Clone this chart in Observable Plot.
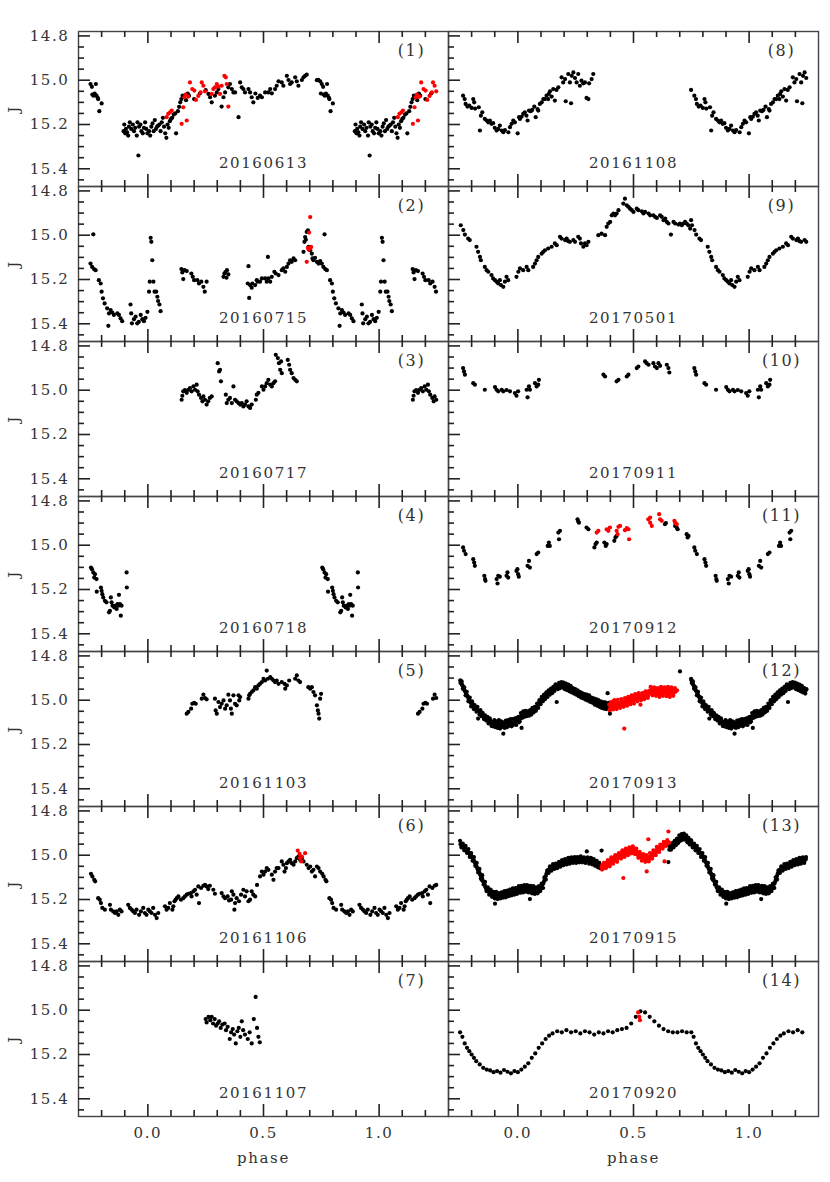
<!DOCTYPE html>
<html><head><meta charset="utf-8">
<script src="https://cdn.jsdelivr.net/npm/d3@7"></script>
<script src="https://cdn.jsdelivr.net/npm/@observablehq/plot@0.6"></script>
<style>
body{margin:0;background:#fff}
svg text{letter-spacing:1.6px}
</style>
</head><body><div id="chart"></div>
<script>
// ---- labels / ticks ----
const panelNumbers = [1,2,3,4,5,6,7,8,9,10,11,12,13,14];
const panelDates = ["20160613","20160715","20160717","20160718","20161103","20161106","20161107",
                    "20161108","20170501","20170911","20170912","20170913","20170915","20170920"];
const xMajor = [0, 0.5, 1];
const xMinor = [-0.2,-0.1,0.1,0.2,0.3,0.4,0.6,0.7,0.8,0.9,1.1,1.2];
const yMajor = [14.8, 15.0, 15.2, 15.4];
const yMinor = [14.85,14.9,14.95,15.05,15.1,15.15,15.25,15.3,15.35,15.45];
const xDomain = [-0.3, 1.3];
const yDomain = [14.78, 15.48];

// ---- data: [phase (0..1), J] ----
const p1 = [[0.731,15.00],[0.737,14.998],[0.745,15.005],[0.748,15.06],[0.752,15.017],[0.758,15.03],[0.760,15.065],[0.765,15.07],[0.770,15.06],[0.775,15.017],[0.778,15.07],[0.783,15.08],[0.785,15.085],[0.790,15.14],[0.800,15.105],
[0.895,15.23],[0.898,15.20],[0.902,15.24],[0.905,15.22],[0.910,15.235],[0.915,15.25],[0.918,15.21],[0.922,15.19],[0.928,15.22],[0.935,15.20],[0.940,15.23],[0.945,15.215],[0.952,15.25],[0.955,15.19],[0.959,15.34],[0.962,15.21],[0.968,15.20],[0.972,15.23],[0.978,15.24],[0.983,15.215],[0.988,15.19],[0.993,15.22],[0.998,15.24],
[0.005,15.23],[0.010,15.25],[0.015,15.21],[0.020,15.195],[0.025,15.23],[0.030,15.18],[0.035,15.22],[0.040,15.21],[0.045,15.205],[0.050,15.20],[0.055,15.23],[0.060,15.19],[0.065,15.17],[0.070,15.21],[0.075,15.24],[0.080,15.26],[0.085,15.20],[0.090,15.215],[0.095,15.185],[0.100,15.175],[0.105,15.17],[0.112,15.155],[0.118,15.15],[0.122,15.24],[0.130,15.14],[0.135,15.12],[0.140,15.10],[0.145,15.085],[0.150,15.07],[0.155,15.075],
[0.165,15.09],[0.172,15.06],[0.178,15.07],[0.200,15.085],[0.225,15.06],[0.250,15.045],
[0.262,15.062],[0.269,15.077],[0.276,15.100],[0.290,15.070],[0.298,15.055],[0.305,15.040],[0.319,15.119],[0.327,15.077],[0.334,15.055],[0.348,15.032],[0.355,15.017],[0.363,15.040],[0.370,15.055],[0.377,15.055],[0.392,15.167],[0.399,15.010],[0.406,15.032],[0.413,15.040],[0.420,15.055],[0.435,15.040],[0.442,15.055],[0.449,15.077],[0.456,15.100],[0.465,15.06],[0.475,15.08],[0.485,15.070],[0.493,15.077],[0.507,15.055],[0.521,15.055],[0.529,15.040],[0.536,15.059],[0.550,15.040],[0.557,15.025],[0.565,15.005],[0.579,15.010],[0.586,15.025],[0.601,14.980],[0.608,14.999],[0.615,15.017],[0.622,15.010],[0.637,14.987],[0.644,15.005],[0.651,15.025],[0.666,14.999],[0.673,14.987],[0.680,14.980],[0.687,14.975]];
const p1r = [[0.081,15.167],[0.088,15.152],[0.096,15.145],[0.103,15.137],[0.146,15.197],[0.168,15.182],[0.153,15.122],[0.158,15.077],[0.163,15.065],[0.175,15.074],[0.182,15.010],[0.192,15.040],[0.201,15.047],[0.208,15.089],[0.218,15.071],[0.228,15.055],[0.233,15.010],[0.240,15.025],[0.247,15.050],[0.276,15.062],[0.283,15.040],[0.290,15.032],[0.298,15.017],[0.305,15.029],[0.319,15.025],[0.331,14.980],[0.337,14.987],[0.341,15.017],[0.348,15.119],[0.312,15.062]];

const p2 = [[0.788,15.203],[0.796,15.218],[0.800,15.255],[0.806,15.285],[0.813,15.308],[0.824,15.330],[0.829,15.409],[0.832,15.353],[0.839,15.338],[0.846,15.349],[0.853,15.360],[0.868,15.353],[0.875,15.360],[0.882,15.376],[0.889,15.388],[0.925,15.313],[0.928,15.353],[0.931,15.398],[0.940,15.379],[0.947,15.368],[0.954,15.398],[0.961,15.391],[0.969,15.360],[0.976,15.379],[0.983,15.388],[0.990,15.373],[0.998,15.346],
[0.005,15.255],[0.008,15.210],[0.012,15.012],[0.015,15.030],[0.019,15.113],[0.024,15.210],[0.029,15.255],[0.036,15.255],[0.041,15.278],[0.044,15.297],[0.050,15.313],[0.055,15.343],
[0.145,15.153],[0.149,15.168],[0.153,15.198],[0.159,15.158],[0.168,15.162],[0.188,15.173],[0.194,15.188],[0.200,15.203],[0.214,15.203],[0.221,15.218],[0.231,15.210],[0.240,15.233],[0.246,15.255],[0.254,15.210],
[0.327,15.188],[0.331,15.173],[0.336,15.165],[0.342,15.158],[0.348,15.177],[0.340,15.192],
[0.432,15.218],[0.435,15.140],[0.438,15.283],[0.442,15.225],[0.449,15.237],[0.452,15.218],[0.464,15.225],[0.471,15.203],[0.475,15.210],[0.485,15.210],[0.493,15.195],[0.507,15.195],[0.514,15.210],[0.519,15.098],[0.521,15.195],[0.529,15.210],[0.536,15.188],[0.547,15.165],[0.553,15.173],[0.565,15.180],[0.579,15.158],[0.586,15.150],[0.594,15.165],[0.601,15.143],[0.608,15.128],[0.615,15.113],[0.622,15.120],[0.630,15.105],[0.637,15.113],
[0.673,15.075],[0.677,15.030],[0.680,15.008],[0.683,15.020],[0.687,14.985],[0.692,14.978],[0.695,15.053],[0.702,15.068],[0.709,15.083],[0.712,15.105],[0.716,15.113],[0.723,15.102],[0.731,15.120],[0.738,15.128],[0.745,15.117],[0.752,15.128],[0.759,15.143],[0.764,14.996],[0.767,15.153],[0.774,15.158]];
const p2r = [[0.702,14.918],[0.697,14.988],[0.692,15.057],[0.702,15.060],[0.706,15.053],[0.695,15.065],[0.687,15.120]];

const p3 = [[0.146,15.043],[0.149,15.025],[0.153,15.005],[0.160,15.000],[0.168,15.012],[0.175,14.998],[0.182,14.990],[0.189,15.005],[0.197,14.983],[0.204,14.998],[0.211,14.975],[0.215,15.005],[0.221,15.020],[0.230,15.035],[0.236,15.050],[0.240,15.028],[0.247,15.043],[0.254,15.065],[0.261,15.050],[0.268,15.035],[0.276,15.028],
[0.302,14.878],[0.308,14.915],[0.312,14.908],[0.316,14.960],
[0.337,15.020],[0.341,15.058],[0.348,15.043],[0.355,15.035],[0.363,15.058],[0.370,14.983],[0.377,15.043],[0.384,15.050],[0.392,15.058],[0.399,15.065],[0.406,15.058],[0.413,15.073],[0.420,15.065],[0.427,15.050],[0.435,15.073],[0.442,15.080],[0.449,15.065],
[0.467,15.043],[0.471,15.020],[0.478,15.012],[0.493,14.983],[0.500,14.998],[0.507,14.983],[0.514,14.968],[0.521,14.953],[0.529,14.975],[0.536,14.983],[0.543,14.968],[0.550,14.960],[0.553,14.840],[0.562,14.855],[0.567,14.878],[0.572,14.908],[0.576,14.870],[0.579,14.923],
[0.605,14.863],[0.611,14.885],[0.615,14.908],[0.622,14.923],[0.630,14.945],[0.637,14.953],[0.644,14.960]];

const p4 = [[0.754,15.101],[0.758,15.108],[0.764,15.123],[0.768,15.146],[0.771,15.131],[0.778,15.153],[0.779,15.210],[0.797,15.191],[0.800,15.206],[0.803,15.221],[0.807,15.236],[0.814,15.251],[0.821,15.258],[0.832,15.303],[0.836,15.296],[0.840,15.236],[0.843,15.258],[0.847,15.273],[0.855,15.281],[0.860,15.273],[0.865,15.288],[0.869,15.266],[0.872,15.273],[0.879,15.266],[0.875,15.224],[0.883,15.318],[0.886,15.273],[0.908,15.123],[0.909,15.191]];

const p5 = [[0.745,14.993],[0.749,14.971],
[0.168,15.061],[0.175,15.053],[0.187,15.038],[0.192,15.016],[0.200,15.012],[0.207,15.016],[0.233,14.993],[0.240,14.975],[0.247,14.990],[0.254,14.996],
[0.290,14.993],[0.293,15.046],[0.298,15.061],[0.305,15.008],[0.312,15.031],[0.319,15.016],[0.327,15.001],[0.334,15.038],[0.341,15.023],[0.348,14.975],[0.355,15.001],[0.359,15.038],[0.363,15.061],[0.370,14.978],[0.377,15.016],[0.384,15.023],[0.392,14.978],[0.395,15.001],[0.399,14.986],
[0.435,14.993],[0.438,14.978],[0.442,14.971],[0.449,14.963],[0.456,14.956],[0.464,14.941],[0.471,14.948],[0.478,14.933],[0.485,14.926],[0.493,14.918],[0.500,14.903],[0.507,14.911],[0.514,14.866],[0.519,14.903],[0.529,14.896],[0.536,14.903],[0.543,14.911],[0.550,14.918],[0.557,14.911],[0.565,14.926],[0.579,14.918],[0.591,14.926],[0.594,14.948],[0.601,14.933],[0.611,14.911],[0.637,14.903],[0.644,14.888],[0.651,14.911],[0.658,14.918],
[0.694,14.941],[0.702,14.948],[0.709,14.941],[0.716,14.963],[0.723,14.978],[0.731,15.023],[0.735,15.046],[0.738,15.061],[0.741,15.083]];

const p6 = [[0.754,15.084],[0.760,15.096],[0.768,15.111],[0.772,15.118],[0.785,15.194],[0.792,15.201],[0.797,15.216],[0.803,15.238],[0.814,15.246],[0.836,15.224],[0.840,15.246],[0.850,15.254],[0.858,15.261],[0.865,15.254],[0.872,15.269],[0.879,15.246],[0.886,15.254],[0.915,15.224],[0.922,15.238],[0.930,15.246],[0.937,15.254],[0.944,15.261],[0.951,15.246],[0.962,15.269],[0.970,15.254],[0.980,15.238],[0.987,15.261],[0.994,15.269],[0.002,15.246],[0.009,15.254],[0.016,15.261],[0.023,15.238],[0.031,15.269],[0.038,15.284],[0.045,15.261],
[0.074,15.231],[0.081,15.246],[0.088,15.238],[0.095,15.216],[0.106,15.246],[0.110,15.231],[0.115,15.208],[0.120,15.201],[0.125,15.194],[0.132,15.186],[0.143,15.201],[0.153,15.194],[0.160,15.186],[0.168,15.178],[0.175,15.174],[0.186,15.171],[0.189,15.186],[0.197,15.163],[0.204,15.156],[0.211,15.178],[0.218,15.141],[0.221,15.216],[0.230,15.148],[0.240,15.138],[0.247,15.134],[0.254,15.141],[0.261,15.153],[0.268,15.138],[0.283,15.156],[0.290,15.174],
[0.319,15.171],[0.327,15.186],[0.334,15.194],[0.345,15.186],[0.351,15.204],[0.360,15.201],[0.363,15.163],[0.370,15.178],[0.374,15.246],[0.377,15.216],[0.384,15.194],[0.394,15.208],[0.403,15.178],[0.413,15.156],[0.420,15.186],[0.427,15.163],[0.435,15.208],[0.442,15.201],[0.449,15.163],[0.456,15.178],[0.464,15.186],[0.472,15.134],[0.485,15.096],[0.493,15.074],[0.500,15.088],[0.507,15.074],[0.514,15.058],[0.521,15.066],[0.536,15.088],[0.543,15.111],[0.550,15.074],[0.557,15.058],[0.565,15.058],[0.579,15.028],[0.586,15.043],[0.591,15.074],[0.597,15.058],[0.601,15.036],[0.608,15.028],[0.615,15.021],[0.622,15.036],[0.630,15.043],[0.637,15.028],[0.644,15.013],[0.651,15.006],[0.658,15.021],[0.666,15.013],[0.673,15.028],
[0.687,15.043],[0.695,15.058],[0.702,15.051],[0.709,15.074],[0.716,15.066],[0.723,15.096],[0.731,15.051],[0.738,15.058],[0.745,15.074]];
const p6r = [[0.648,14.979],[0.656,14.994],[0.658,15.013],[0.663,15.028],[0.666,15.006],[0.680,14.991]];

const p7 = [[0.250,15.040],[0.254,15.055],[0.262,15.030],[0.270,15.045],[0.276,15.030],[0.282,15.060],[0.289,15.040],[0.295,15.070],[0.302,15.060],[0.308,15.050],[0.315,15.080],[0.322,15.065],[0.332,15.060],[0.338,15.090],[0.345,15.075],[0.354,15.130],[0.360,15.100],[0.367,15.085],[0.373,15.110],[0.380,15.150],[0.387,15.095],[0.393,15.080],[0.400,15.120],[0.406,15.050],[0.412,15.090],[0.420,15.110],[0.432,15.130],[0.440,15.100],[0.449,15.150],[0.458,15.040],[0.466,14.940],[0.472,15.080],[0.478,15.120],[0.484,15.145]];

const p8 = [[0.749,15.044],[0.763,15.070],[0.770,15.085],[0.774,15.107],[0.782,15.119],[0.790,15.115],[0.800,15.125],[0.807,15.085],[0.811,15.100],[0.815,15.128],[0.831,15.122],[0.836,15.227],[0.840,15.160],[0.846,15.145],[0.857,15.175],[0.865,15.182],[0.872,15.190],[0.879,15.182],[0.886,15.197],[0.893,15.194],[0.900,15.215],[0.908,15.227],[0.915,15.220],[0.922,15.205],[0.930,15.227],[0.937,15.235],[0.944,15.225],
[0.959,15.235],[0.966,15.212],[0.973,15.197],[0.980,15.182],[0.987,15.190],[0.999,15.240],[0.005,15.167],[0.009,15.175],[0.016,15.165],[0.023,15.152],[0.030,15.145],[0.037,15.160],[0.042,15.182],[0.048,15.137],[0.056,15.140],[0.062,15.134],[0.071,15.119],[0.077,15.167],[0.085,15.130],[0.088,15.137],[0.095,15.107],[0.103,15.100],[0.110,15.085],[0.117,15.085],[0.124,15.070],[0.131,15.085],[0.134,15.062],[0.139,15.050],[0.146,15.074],[0.153,15.040],[0.160,15.092],[0.167,15.044],[0.175,15.032],[0.189,14.987],[0.196,15.010],[0.204,14.995],[0.207,15.095],[0.218,14.972],[0.225,15.010],[0.230,15.104],[0.233,14.980],[0.240,14.965],[0.247,14.990],[0.254,15.010],[0.261,14.972],[0.268,15.025],[0.275,15.002],[0.283,15.014],[0.290,15.010],[0.297,15.080],[0.305,15.085],[0.308,15.014],[0.319,14.995],[0.326,14.972]];

const p9 = [[0.749,14.932],[0.753,14.955],[0.764,14.977],[0.771,14.997],[0.785,15.015],[0.792,15.022],[0.821,15.052],[0.828,15.075],[0.836,15.098],[0.840,15.113],[0.857,15.143],[0.865,15.158],[0.872,15.165],[0.886,15.180],[0.893,15.195],[0.901,15.203],[0.908,15.210],[0.915,15.218],[0.922,15.203],[0.927,15.225],[0.937,15.233],[0.944,15.210],[0.951,15.188],[0.958,15.203],[0.994,15.188],
[0.002,15.165],[0.009,15.150],[0.023,15.158],[0.038,15.143],[0.045,15.158],[0.066,15.143],[0.074,15.128],[0.081,15.113],[0.088,15.098],[0.103,15.083],[0.110,15.075],[0.117,15.068],[0.131,15.060],[0.146,15.052],[0.160,15.037],[0.168,15.045],[0.182,15.007],[0.189,15.015],[0.204,15.022],[0.211,15.015],[0.218,15.027],[0.225,15.030],[0.240,15.022],[0.247,15.030],[0.261,15.007],[0.268,15.015],[0.273,15.037],[0.283,15.052],[0.290,15.037],[0.297,15.045],[0.305,15.030],
[0.348,15.000],[0.362,14.993],[0.377,15.000],[0.384,14.962],[0.391,14.947],[0.399,14.940],[0.406,14.910],[0.413,14.902],[0.420,14.910],[0.427,14.902],[0.435,14.887],[0.456,14.857],[0.463,14.835],[0.471,14.865],[0.478,14.872],[0.485,14.880],[0.493,14.887],[0.500,14.895],[0.514,14.880],[0.521,14.887],[0.536,14.892],[0.543,14.902],[0.550,14.895],[0.565,14.902],[0.572,14.910],[0.586,14.910],[0.593,14.917],[0.601,14.922],[0.615,14.910],[0.622,14.917],[0.630,14.932],[0.637,14.925],[0.644,14.940],[0.651,14.947],[0.662,14.997],[0.673,14.940],[0.680,14.947],[0.694,14.952],[0.701,14.947],[0.709,14.955],[0.716,14.947],[0.723,14.940],[0.730,14.947],[0.737,14.955],[0.745,14.970]];

const p10 = [[0.763,14.900],[0.767,14.915],[0.771,14.930],[0.807,14.968],[0.814,14.975],[0.857,14.998],[0.901,14.986],[0.908,14.998],[0.915,15.005],[0.930,14.998],[0.937,15.005],[0.951,14.999],[0.966,15.005],[0.987,15.013],[0.994,15.025],[0.001,15.005],[0.038,14.998],[0.042,15.032],[0.048,14.983],[0.052,14.998],[0.074,14.968],[0.081,14.983],[0.088,14.975],[0.091,14.953],
[0.370,14.930],[0.377,14.938],[0.427,14.960],[0.435,14.953],[0.471,14.938],[0.478,14.930],[0.514,14.900],[0.521,14.893],[0.550,14.870],[0.557,14.878],[0.565,14.885],[0.586,14.878],[0.593,14.893],[0.601,14.900],[0.608,14.878],[0.615,14.890],[0.644,14.885],[0.651,14.900],[0.655,14.920]];

const p11 = [[0.763,15.010],[0.767,15.025],[0.774,15.040],[0.807,15.063],[0.811,15.078],[0.814,15.093],[0.855,15.138],[0.858,15.153],[0.860,15.161],[0.908,15.153],[0.912,15.173],[0.915,15.138],[0.922,15.142],[0.951,15.138],[0.955,15.123],[0.958,15.146],[0.994,15.116],[0.998,15.108],[0.001,15.131],[0.004,15.142],[0.042,15.093],[0.048,15.071],[0.052,15.101],[0.081,15.040],[0.088,15.033],[0.129,15.003],[0.134,14.988],[0.138,15.003],[0.175,14.943],[0.178,14.973],[0.182,14.935],
[0.258,14.883],[0.261,14.893],[0.264,14.898],[0.297,14.920],[0.305,14.928],[0.331,15.010],[0.336,14.995],[0.341,14.988],[0.374,14.988],[0.380,15.003],[0.384,14.995],[0.417,14.980],[0.422,14.965],[0.427,14.958],[0.636,14.905],[0.640,14.900],[0.680,14.913],[0.687,14.920],[0.691,14.928],[0.730,14.950],[0.734,14.965],[0.738,14.958]];
const p11r = [[0.341,14.943],[0.348,14.935],[0.384,14.928],[0.391,14.935],[0.398,14.920],[0.427,14.935],[0.431,14.950],[0.435,14.917],[0.442,14.913],[0.463,14.932],[0.471,14.923],[0.478,14.928],[0.481,14.973],[0.564,14.883],[0.572,14.875],[0.572,14.898],[0.579,14.913],[0.611,14.860],[0.615,14.883],[0.622,14.890],[0.677,14.890],[0.680,14.898],[0.687,14.905]];

const p12 = [[0.749,14.903],[0.751,14.910],[0.753,14.918],[0.756,14.925],[0.758,14.930],[0.761,14.935],[0.764,14.940],[0.766,14.948],[0.769,14.955],[0.772,14.960],[0.775,14.965],[0.778,14.975],[0.781,14.980],[0.784,14.985],[0.787,14.995],[0.790,15.000],[0.793,15.005],[0.796,15.010],[0.800,15.020],[0.804,15.015],[0.807,15.025],[0.811,15.030],[0.815,15.035],[0.819,15.040],[0.823,15.038],[0.827,15.048],[0.828,15.083],[0.832,15.050],[0.836,15.055],[0.840,15.060],[0.845,15.058],[0.850,15.070],[0.855,15.075],[0.860,15.080],[0.865,15.078],[0.870,15.090],[0.875,15.095],[0.880,15.090],[0.886,15.116],[0.888,15.100],[0.895,15.105],[0.900,15.098],[0.905,15.110],[0.910,15.105],[0.915,15.112],[0.920,15.100],[0.925,15.115],[0.930,15.108],[0.937,15.151],[0.935,15.100],[0.940,15.112],[0.945,15.105],[0.950,15.098],[0.955,15.110],[0.960,15.100],[0.965,15.095],[0.970,15.105],[0.975,15.095],[0.980,15.100],[0.985,15.090],[0.990,15.100],[0.995,15.095],
[0.000,15.090],[0.005,15.100],[0.010,15.080],[0.016,15.125],[0.015,15.070],[0.020,15.065],[0.025,15.060],[0.030,15.062],[0.035,15.058],[0.040,15.065],[0.045,15.060],[0.050,15.055],[0.055,15.062],[0.060,15.050],[0.065,15.045],[0.070,15.040],[0.075,15.045],[0.080,15.030],[0.085,15.025],[0.090,15.015],[0.095,15.005],[0.100,15.000],[0.105,14.995],[0.110,14.990],[0.115,14.985],[0.120,14.980],[0.125,14.975],[0.130,14.970],[0.135,14.965],[0.140,14.962],[0.145,14.958],[0.150,14.955],[0.155,14.950],[0.160,14.945],[0.165,14.940],[0.168,15.008],[0.170,14.935],[0.175,14.940],[0.180,14.930],[0.185,14.935],[0.190,14.925],[0.195,14.930],[0.200,14.935],
[0.205,14.940],[0.210,14.935],[0.215,14.945],[0.220,14.940],[0.225,14.950],[0.230,14.948],[0.235,14.955],[0.240,14.960],[0.245,14.955],[0.250,14.965],[0.255,14.962],[0.260,14.968],[0.265,14.970],[0.270,14.975],[0.275,14.970],[0.280,14.980],[0.285,14.978],[0.290,14.985],[0.295,14.980],[0.300,14.990],[0.305,14.985],[0.310,14.995],[0.315,14.990],[0.320,15.000],[0.325,14.998],[0.330,15.005],[0.335,15.010],[0.340,15.005],[0.345,15.015],[0.350,15.010],[0.355,15.018],[0.360,15.015],[0.365,15.022],[0.370,15.020],[0.375,15.025],[0.380,15.020],[0.385,15.028],[0.388,14.968],[0.390,15.022],[0.395,15.030],[0.398,15.061],[0.701,14.870],
[0.752,14.922],[0.757,14.915],[0.762,14.948],[0.768,14.942],[0.774,14.978],[0.779,14.962],[0.786,15.005],[0.792,14.988],[0.798,15.028],[0.802,15.005],[0.809,15.040],[0.813,15.022],[0.821,15.052],[0.825,15.030],[0.834,15.065],[0.838,15.045],[0.843,15.072],[0.848,15.058],[0.853,15.085],[0.858,15.068],[0.863,15.092],[0.868,15.075],[0.873,15.105],[0.878,15.082],[0.884,15.100],[0.892,15.118],[0.898,15.090],[0.903,15.122],[0.908,15.095],[0.913,15.125],[0.918,15.090],[0.923,15.128],[0.928,15.095],[0.933,15.120],[0.943,15.125],[0.948,15.092],[0.953,15.122],[0.958,15.090],[0.963,15.115],[0.968,15.085],[0.973,15.118],[0.978,15.085],[0.983,15.110],[0.988,15.082],[0.993,15.112],[0.998,15.078],
[0.003,15.075],[0.008,15.095],[0.013,15.058],[0.018,15.080],[0.023,15.050],[0.028,15.075],[0.033,15.048],[0.038,15.072],[0.043,15.050],[0.048,15.070],[0.053,15.045],[0.058,15.065],[0.063,15.035],[0.068,15.055],[0.073,15.030],[0.078,15.048],[0.083,15.015],[0.088,15.035],[0.093,15.000],[0.098,15.018],[0.103,14.985],[0.108,15.005],[0.113,14.975],[0.118,14.995],[0.123,14.965],[0.128,14.985],[0.133,14.955],[0.138,14.975],[0.143,14.948],[0.148,14.968],[0.153,14.940],[0.158,14.958],[0.163,14.928],[0.173,14.950],[0.178,14.922],[0.183,14.945],[0.188,14.918],[0.193,14.942],[0.198,14.920],[0.203,14.950],[0.208,14.925],[0.213,14.955],[0.218,14.930],[0.223,14.960],[0.228,14.935],[0.233,14.965],[0.238,14.945],[0.243,14.970],[0.248,14.950],[0.253,14.975],[0.258,14.955],[0.263,14.982],[0.268,14.962],[0.273,14.988],[0.278,14.968],[0.283,14.992],[0.288,14.972],[0.293,14.998],[0.298,14.975],[0.303,15.002],[0.308,14.978],[0.313,15.008],[0.318,14.988],[0.323,15.012],[0.328,14.992],[0.333,15.020],[0.338,14.995],[0.343,15.025],[0.348,15.000],[0.353,15.030],[0.358,15.005],[0.363,15.035],[0.368,15.008],[0.373,15.038],[0.378,15.010],[0.383,15.040],[0.393,15.012]];
const p12r = [[0.395,15.020],[0.400,15.035],[0.403,15.015],[0.405,15.040],[0.408,15.025],[0.410,15.030],[0.413,15.005],[0.415,15.035],[0.418,15.020],[0.420,15.028],[0.423,15.015],[0.425,15.030],[0.428,15.022],[0.430,15.010],[0.433,15.025],[0.435,15.015],[0.438,15.030],[0.440,15.020],[0.443,15.012],[0.445,15.025],[0.448,15.018],[0.450,15.010],[0.453,15.020],[0.455,15.005],[0.458,15.015],[0.460,15.128],[0.462,15.020],[0.465,15.008],[0.468,15.000],[0.470,15.015],[0.473,15.005],[0.475,15.010],[0.478,14.998],[0.480,15.008],[0.483,15.000],[0.485,14.995],[0.488,15.005],[0.490,14.998],[0.493,14.990],[0.495,15.000],[0.498,14.992],[0.500,15.002],[0.503,14.990],[0.505,14.985],[0.508,14.995],[0.510,14.988],[0.513,14.980],[0.515,14.992],[0.518,14.985],[0.520,14.978],[0.523,14.990],[0.525,14.982],[0.530,15.020],[0.528,14.975],[0.532,14.985],[0.535,14.990],[0.540,14.982],[0.545,14.975],[0.548,14.988],[0.550,14.980],[0.553,14.970],[0.556,14.985],[0.558,14.975],[0.560,14.970],[0.563,14.980],
[0.572,14.965],[0.575,14.955],[0.578,14.970],[0.580,14.960],[0.583,14.950],[0.585,14.968],[0.588,14.958],[0.590,14.972],[0.593,14.955],[0.595,14.965],[0.598,14.960],[0.600,14.950],[0.603,14.970],[0.605,14.962],[0.608,14.955],[0.610,14.975],[0.613,14.960],[0.615,14.968],[0.618,14.950],[0.620,14.965],[0.623,14.958],[0.625,14.972],[0.628,14.960],[0.630,14.955],[0.633,14.968],[0.635,14.950],[0.638,14.962],[0.640,14.970],[0.643,14.955],[0.645,14.965],[0.648,14.960],[0.650,14.950],[0.653,14.968],[0.655,14.975],[0.658,14.960],[0.660,14.955],[0.663,14.965],[0.665,14.950],[0.668,14.960],[0.670,14.970],[0.673,14.958],[0.675,14.965],[0.678,14.955],[0.680,14.962],
[0.397,15.045],[0.402,15.008],[0.412,15.042],[0.417,15.000],[0.427,15.040],[0.432,14.998],[0.442,15.035],[0.447,14.995],[0.457,15.030],[0.463,14.990],[0.472,15.025],[0.477,14.985],[0.487,15.018],[0.492,14.978],[0.502,15.015],[0.507,14.972],[0.517,15.005],[0.522,14.968],[0.533,15.000],[0.538,14.968],[0.547,14.995],[0.552,14.960],[0.562,14.990],[0.567,14.958],
[0.574,14.940],[0.582,14.978],[0.589,14.942],[0.597,14.980],[0.604,14.945],[0.612,14.985],[0.619,14.940],[0.627,14.980],[0.634,14.942],[0.642,14.982],[0.649,14.940],[0.657,14.985],[0.664,14.942],[0.672,14.980],[0.679,14.945],[0.684,14.960],[0.688,14.955]];

const p13 = [[0.749,14.946],[0.752,14.950],[0.755,14.955],[0.758,14.952],[0.761,14.960],[0.764,14.962],[0.767,14.965],[0.770,14.970],[0.773,14.968],[0.776,14.975],[0.779,14.978],[0.782,14.982],[0.785,14.985],[0.788,14.990],[0.791,14.995],[0.794,14.998],[0.797,15.000],[0.800,15.005],[0.803,15.010],[0.806,15.015],[0.809,15.022],[0.812,15.030],[0.815,15.035],[0.818,15.045],[0.821,15.050],[0.824,15.058],[0.827,15.065],[0.830,15.070],[0.833,15.078],[0.836,15.085],[0.839,15.092],[0.842,15.100],[0.843,15.111],[0.845,15.105],[0.848,15.115],[0.851,15.120],[0.854,15.130],[0.857,15.135],[0.860,15.145],[0.863,15.150],[0.866,15.155],[0.869,15.160],[0.872,15.158],[0.875,15.165],[0.878,15.160],[0.881,15.170],[0.884,15.165],[0.887,15.175],[0.890,15.168],[0.893,15.180],[0.896,15.172],[0.899,15.185],[0.901,15.219],[0.903,15.175],[0.906,15.180],[0.909,15.170],[0.912,15.185],[0.915,15.178],[0.918,15.190],[0.921,15.175],[0.924,15.182],[0.927,15.170],[0.930,15.185],[0.933,15.175],[0.936,15.180],[0.939,15.168],[0.942,15.178],[0.945,15.170],[0.948,15.180],[0.951,15.165],[0.954,15.175],[0.957,15.168],[0.960,15.172],[0.963,15.160],[0.966,15.170],[0.969,15.165],[0.972,15.170],[0.975,15.160],[0.978,15.165],[0.981,15.155],[0.984,15.165],[0.987,15.160],[0.990,15.165],[0.993,15.155],[0.996,15.162],[0.999,15.150],
[0.003,15.160],[0.006,15.150],[0.009,15.158],[0.012,15.145],[0.015,15.155],[0.018,15.148],[0.021,15.160],[0.024,15.150],[0.027,15.145],[0.030,15.155],[0.033,15.140],[0.036,15.150],[0.039,15.145],[0.042,15.155],[0.045,15.148],[0.048,15.160],[0.052,15.198],[0.051,15.150],[0.054,15.145],[0.057,15.155],[0.060,15.150],[0.063,15.160],[0.066,15.155],[0.069,15.150],[0.072,15.160],[0.075,15.155],[0.078,15.165],[0.081,15.150],[0.084,15.160],[0.087,15.155],[0.090,15.150],[0.093,15.160],[0.096,15.145],[0.099,15.150],[0.102,15.140],[0.105,15.145],[0.108,15.130],[0.111,15.125],[0.114,15.115],[0.117,15.105],[0.120,15.095],[0.123,15.085],[0.126,15.080],[0.129,15.072],[0.132,15.068],[0.135,15.065],[0.138,15.060],[0.141,15.062],[0.144,15.055],[0.147,15.058],
[0.150,15.052],[0.155,15.055],[0.160,15.048],[0.165,15.050],[0.170,15.045],[0.175,15.042],[0.180,15.038],[0.185,15.040],[0.190,15.035],[0.195,15.032],[0.200,15.030],[0.205,15.028],[0.210,15.032],[0.215,15.025],[0.220,15.028],[0.225,15.022],[0.230,15.025],[0.235,15.020],[0.240,15.025],[0.245,15.018],[0.250,15.022],[0.255,15.020],[0.260,15.025],[0.265,15.018],[0.270,15.022],[0.275,15.015],[0.280,15.020],[0.285,15.025],[0.290,15.018],[0.295,15.022],[0.298,14.983],[0.300,15.025],[0.305,15.020],[0.310,15.028],[0.315,15.022],[0.320,15.030],[0.325,15.028],[0.330,15.035],[0.335,15.030],[0.340,15.040],[0.345,15.038],[0.350,15.045],[0.355,15.050],[0.360,15.048],[0.362,14.979],
[0.651,15.031],[0.655,14.975],[0.660,14.965],[0.665,14.958],[0.670,14.950],[0.675,14.955],[0.680,14.945],[0.685,14.940],[0.690,14.935],[0.695,14.930],[0.700,14.920],[0.705,14.925],[0.710,14.915],[0.715,14.920],[0.720,14.912],[0.725,14.918],[0.730,14.925],[0.735,14.930],[0.740,14.935],[0.745,14.940],
[0.750,14.935],[0.756,14.965],[0.762,14.948],[0.768,14.978],[0.774,14.958],[0.780,14.990],[0.786,14.972],[0.792,15.008],[0.798,14.990],[0.804,15.025],[0.810,15.008],[0.816,15.048],[0.822,15.035],[0.828,15.078],[0.834,15.062],[0.840,15.105],[0.846,15.090],[0.852,15.132],[0.858,15.120],[0.864,15.162],[0.870,15.145],[0.876,15.178],[0.882,15.155],[0.888,15.188],[0.894,15.165],[0.900,15.195],[0.906,15.165],[0.912,15.198],[0.918,15.172],[0.924,15.195],[0.930,15.168],[0.936,15.192],[0.942,15.162],[0.948,15.190],[0.954,15.160],[0.960,15.185],[0.966,15.155],[0.972,15.182],[0.978,15.150],[0.984,15.178],[0.990,15.148],[0.996,15.175],
[0.004,15.140],[0.010,15.170],[0.016,15.138],[0.022,15.168],[0.028,15.135],[0.034,15.165],[0.040,15.135],[0.046,15.168],[0.055,15.138],[0.061,15.172],[0.067,15.140],[0.073,15.175],[0.079,15.145],[0.085,15.172],[0.091,15.140],[0.097,15.162],[0.103,15.128],[0.109,15.148],[0.115,15.100],[0.121,15.110],[0.127,15.068],[0.133,15.080],[0.139,15.050],[0.145,15.070],[0.152,15.040],[0.158,15.062],[0.164,15.038],[0.171,15.058],[0.178,15.030],[0.184,15.052],[0.191,15.022],[0.197,15.045],[0.204,15.018],[0.211,15.042],[0.218,15.012],[0.224,15.038],[0.232,15.010],[0.238,15.035],[0.246,15.008],[0.252,15.035],[0.258,15.008],[0.266,15.032],[0.272,15.005],[0.278,15.032],[0.286,15.010],[0.292,15.035],[0.302,15.010],[0.308,15.038],[0.316,15.012],[0.322,15.042],[0.328,15.018],[0.334,15.048],[0.341,15.025],[0.347,15.055],[0.352,15.035],[0.358,15.060],
[0.657,14.960],[0.662,14.975],[0.668,14.945],[0.673,14.965],[0.678,14.935],[0.683,14.955],[0.688,14.925],[0.693,14.945],[0.698,14.910],[0.703,14.935],[0.708,14.905],[0.713,14.930],[0.718,14.902],[0.723,14.930],[0.728,14.910],[0.733,14.942],[0.738,14.922],[0.743,14.952],[0.748,14.932]];
const p13r = [[0.362,15.055],[0.365,15.045],[0.368,15.060],[0.370,15.050],[0.373,15.040],[0.375,15.055],[0.378,15.045],[0.380,15.035],[0.383,15.050],[0.385,15.040],[0.388,15.030],[0.390,15.045],[0.393,15.035],[0.395,15.025],[0.398,15.040],[0.400,15.030],[0.403,15.020],[0.405,15.035],[0.408,15.025],[0.410,15.015],[0.413,15.028],[0.415,15.018],[0.418,15.010],[0.420,15.022],[0.423,15.012],[0.425,15.005],[0.428,15.018],[0.430,15.008],[0.433,15.000],[0.435,15.012],[0.438,15.002],[0.440,14.995],[0.443,15.008],[0.445,14.998],[0.448,14.990],[0.450,15.003],[0.453,14.992],[0.456,15.103],[0.458,14.985],[0.460,14.998],[0.463,14.988],[0.465,14.980],[0.468,14.992],[0.470,14.985],[0.473,14.978],[0.475,14.990],[0.478,14.982],[0.480,14.975],[0.483,14.985],[0.485,14.978],[0.488,14.970],[0.490,14.982],[0.493,14.975],[0.495,14.968],[0.498,14.980],[0.500,14.972],[0.503,14.978],[0.505,14.985],[0.508,14.978],[0.510,14.990],[0.513,14.985],[0.515,14.995],[0.518,14.988],[0.520,15.000],[0.523,14.992],[0.525,15.005],[0.528,14.998],[0.530,15.008],[0.533,15.000],[0.535,15.012],[0.538,15.005],[0.540,15.015],[0.543,15.008],[0.545,15.018],[0.548,15.010],[0.550,15.020],[0.553,15.012],[0.557,15.073],[0.555,15.022],[0.558,15.012],[0.560,15.020],[0.563,15.010],[0.564,14.928],[0.565,15.018],[0.568,15.008],[0.570,15.015],[0.573,15.005],[0.575,15.010],[0.578,14.998],[0.580,15.005],[0.583,14.992],[0.585,15.000],[0.588,14.988],[0.590,14.995],[0.593,14.982],[0.595,14.990],[0.598,14.978],[0.600,14.985],[0.603,14.972],[0.605,14.980],[0.608,14.968],[0.610,14.975],[0.613,14.965],[0.615,14.970],[0.618,14.960],[0.620,14.966],[0.623,14.956],[0.625,14.962],[0.628,14.952],[0.630,14.958],[0.633,14.948],[0.634,15.028],[0.636,14.952],[0.638,14.945],[0.640,14.950],[0.643,14.942],[0.645,14.948],[0.648,14.940],[0.651,14.893],[0.650,14.946],[0.653,14.942],
[0.364,15.065],[0.372,15.035],[0.381,15.058],[0.389,15.022],[0.397,15.050],[0.404,15.010],[0.412,15.038],[0.421,15.000],[0.429,15.030],[0.437,14.990],[0.446,15.015],[0.452,14.978],[0.461,15.008],[0.467,14.970],[0.476,15.000],[0.482,14.965],[0.491,14.992],[0.497,14.960],[0.506,14.995],[0.512,14.970],[0.521,15.012],[0.527,14.985],[0.536,15.025],[0.542,14.995],[0.551,15.030],[0.556,15.000],[0.566,15.028],[0.571,14.990],[0.581,15.015],[0.586,14.978],[0.596,15.000],[0.601,14.962],[0.611,14.985],[0.616,14.952],[0.626,14.970],[0.631,14.940],[0.641,14.958],[0.646,14.932]];

const p14 = [[0.750,15.100],[0.760,15.120],[0.770,15.150],[0.780,15.170],[0.790,15.185],[0.800,15.200],[0.810,15.215],[0.820,15.230],[0.835,15.245],[0.850,15.260],[0.865,15.268],[0.880,15.272],[0.895,15.280],[0.910,15.275],[0.925,15.282],[0.940,15.270],[0.955,15.278],[0.970,15.285],[0.985,15.275],[0.000,15.280],[0.015,15.268],[0.030,15.255],[0.045,15.240],[0.060,15.215],[0.075,15.195],[0.090,15.170],[0.105,15.150],[0.120,15.130],[0.135,15.115],[0.150,15.105],[0.170,15.095],[0.190,15.100],[0.210,15.090],[0.230,15.100],[0.250,15.095],[0.270,15.105],[0.290,15.095],[0.310,15.100],[0.330,15.110],[0.350,15.100],[0.370,15.105],[0.390,15.095],[0.410,15.100],[0.430,15.090],[0.450,15.085],[0.470,15.080],[0.490,15.060],[0.510,15.030],[0.530,15.005],[0.550,15.010],[0.570,15.030],[0.590,15.050],[0.610,15.070],[0.630,15.085],[0.650,15.095],[0.670,15.100],[0.690,15.100],[0.710,15.095],[0.730,15.100]];
const p14r = [[0.520,15.010],[0.525,15.030],[0.528,15.045]];

// ---- assemble ----
const blackSets = [p1,p2,p3,p4,p5,p6,p7,p8,p9,p10,p11,p12,p13,p14];
const redSets = [p1r,p2r,[],[],[],p6r,[],[],[],[],p11r,p12r,p13r,p14r];
const meta = panelNumbers.map((n,i) => ({n, date: panelDates[i], col: i < 7 ? 0 : 1, row: i % 7}));

function expand(sets, red) {
  const out = [];
  sets.forEach((set, i) => {
    const {col, row} = meta[i];
    for (const [p, J] of set) {
      out.push({col, row, phase: p, J, red});
      if (p >= 0.75) out.push({col, row, phase: p - 1, J, red});
      if (p < 0.25) out.push({col, row, phase: p + 1, J, red});
    }
  });
  return out;
}
const blackPts = expand(blackSets, false);
const redPts = expand(redSets, true);
const perPanel = vals => meta.flatMap(m => vals.map(v => ({col: m.col, row: m.row, v})));

const FONT = "DejaVu Serif";
const INK = "#333";
const W = 830, H = 1182, MT = 29, MR = 12, MB = 64.5, ML = 77;
const FW = (W - ML - MR) / 2, FH = (H - MT - MB) / 7;            // facet size in px
const kx = (xDomain[1] - xDomain[0]) / FW, ky = (yDomain[1] - yDomain[0]) / FH; // data units per px
const TK = {fx: "col", fy: "row", stroke: "#222", strokeWidth: 1.6};
const topTick = len => ({x: "v", y1: () => yDomain[0], y2: () => yDomain[0] + len * ky, ...TK});
const botTick = len => ({x: "v", y1: () => yDomain[1], y2: () => yDomain[1] - len * ky, ...TK});
const leftTick = len => ({y: "v", x1: () => xDomain[0], x2: () => xDomain[0] + len * kx, ...TK});

const chart = Plot.plot({
  width: W, height: H,
  marginTop: MT, marginRight: MR, marginBottom: MB, marginLeft: ML,
  style: {fontFamily: FONT, color: INK, background: "#fff", overflow: "visible"},
  x: {domain: xDomain},
  y: {domain: yDomain, reverse: true},
  fx: {domain: [0, 1], padding: 0, axis: null},
  fy: {domain: [0, 1, 2, 3, 4, 5, 6], padding: 0, axis: null},
  marks: [
    Plot.frame({stroke: "#444", strokeWidth: 1.4, fill: "none"}),
    // inward tick marks on top, bottom and left edges of each panel
    Plot.ruleX(perPanel(xMinor), topTick(6)),
    Plot.ruleX(perPanel(xMajor), topTick(12)),
    Plot.ruleX(perPanel(xMinor), botTick(6)),
    Plot.ruleX(perPanel(xMajor), botTick(12)),
    Plot.ruleY(perPanel(yMinor), leftTick(6)),
    Plot.ruleY(perPanel(yMajor), leftTick(12)),
    Plot.axisY({ticks: yMajor, anchor: "left", tickSize: 0, tickPadding: 9, tickFormat: d3.format(".1f"), facetAnchor: "left", label: null, fontSize: 15, fill: INK}),
    Plot.axisX({ticks: xMajor, anchor: "bottom", tickSize: 0, tickPadding: 11, tickFormat: d3.format(".1f"), facetAnchor: "bottom", label: null, fontSize: 15, fill: INK}),
    Plot.dot(blackPts, {x: "phase", y: "J", fx: "col", fy: "row", r: 2.1, fill: "#000"}),
    Plot.dot(redPts, {x: "phase", y: "J", fx: "col", fy: "row", r: 2.1, fill: "#ff0000"}),
    Plot.text(meta, {fx: "col", fy: "row", text: d => `(${d.n})`, frameAnchor: "top-right", dx: -37, dy: 19, textAnchor: "middle", lineAnchor: "middle", fontSize: 16, fill: INK}),
    Plot.text(meta, {fx: "col", fy: "row", text: "date", frameAnchor: "bottom", dy: -23, textAnchor: "middle", lineAnchor: "middle", fontSize: 15, fill: INK}),
    Plot.text(meta.filter(d => d.col === 0), {fx: "col", fy: "row", text: () => "J", frameAnchor: "left", dx: -64, rotate: -90, textAnchor: "middle", lineAnchor: "middle", fontSize: 15, fill: INK}),
    Plot.text(meta.filter(d => d.row === 6), {fx: "col", fy: "row", text: () => "phase", frameAnchor: "bottom", dy: 42, textAnchor: "middle", lineAnchor: "middle", fontSize: 15, fill: INK})
  ]
});
document.getElementById("chart").appendChild(chart);
</script>
</body></html>
